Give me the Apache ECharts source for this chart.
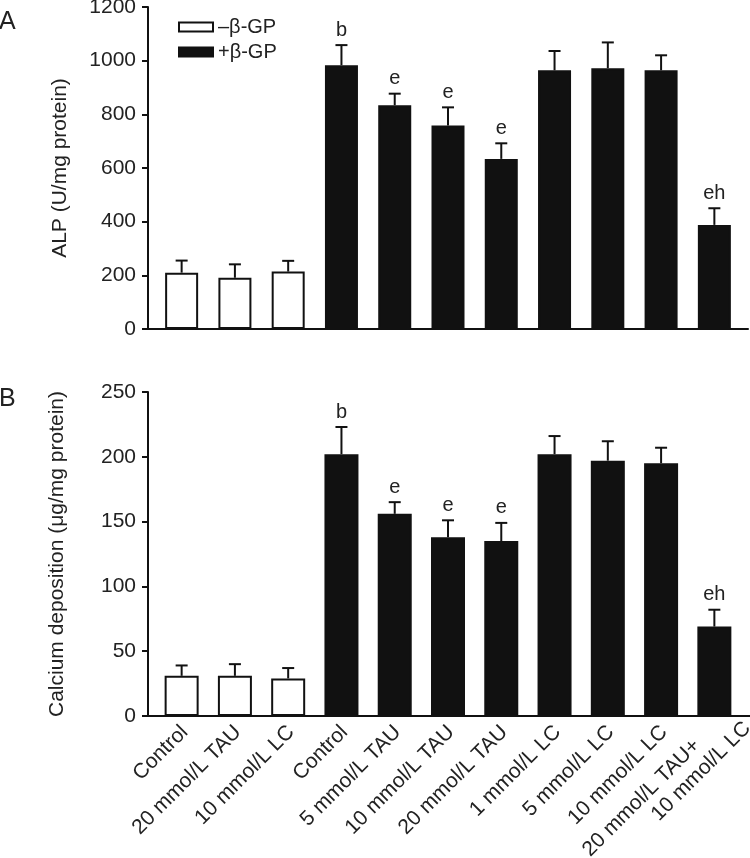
<!DOCTYPE html>
<html><head><meta charset="utf-8">
<script src="https://cdn.jsdelivr.net/npm/echarts@6/dist/echarts.min.js"></script>
<style>html,body{margin:0;padding:0;background:#fff}#c{width:750px;height:858px}</style>
</head><body><div id="c"></div>
<script>
const categories = ['Control','20 mmol/L TAU','10 mmol/L LC','Control','5 mmol/L TAU','10 mmol/L TAU','20 mmol/L TAU','1 mmol/L LC','5 mmol/L LC','10 mmol/L LC','20 mmol/L TAU+\n10 mmol/L LC'];
const legendNames = ['\u2013\u03b2-GP', '+\u03b2-GP'];
// Panel A: ALP
const alpMinus = [210, 191, 214, null, null, null, null, null, null, null, null];
const alpPlus  = [null, null, null, 983, 834, 758, 634, 964, 972, 964, 388];
const alpErr   = [45, 50, 40, 75, 43, 68, 58, 72, 96, 56, 62];
const alpSig   = ['', '', '', 'b', 'e', 'e', 'e', '', '', '', 'eh'];
// Panel B: Calcium deposition
const caMinus = [31, 31, 29, null, null, null, null, null, null, null, null];
const caPlus  = [null, null, null, 202, 156, 138, 135, 202, 197, 195, 69];
const caErr   = [8, 9, 8, 21, 9, 13, 14, 14, 15, 12, 13];
const caSig   = ['', '', '', 'b', 'e', 'e', 'e', '', '', '', 'eh'];
const alpTicks = {min: 0, max: 1200, interval: 200};
const caTicks = {min: 0, max: 250, interval: 50};

const FONT = '"Liberation Sans", Arial, sans-serif';
const INK = '#111';
const LABEL_INK = '#222';

function errData(minus, plus, err, sig) {
  return categories.map((c, i) => [i, (minus[i] != null ? minus[i] : plus[i]), err[i], sig[i]]);
}
function errSeries(xi, yi, data) {
  return {
    type: 'custom', xAxisIndex: xi, yAxisIndex: yi, data: data, z: 1,
    renderItem: function (params, api) {
      const x = api.value(0), v = api.value(1), e = api.value(2);
      const sig = data[params.dataIndex][3];
      const p0 = api.coord([x, v]);
      const p1 = api.coord([x, v + e]);
      const cw = 6;
      const children = [
        {type: 'line', shape: {x1: p0[0], y1: p0[1], x2: p1[0], y2: p1[1]}, style: {stroke: INK, lineWidth: 2}},
        {type: 'line', shape: {x1: p1[0] - cw, y1: p1[1], x2: p1[0] + cw, y2: p1[1]}, style: {stroke: INK, lineWidth: 2}}
      ];
      if (sig) {
        children.push({type: 'text', x: p1[0], y: p1[1] - 5, style: {text: sig, fill: LABEL_INK, font: '20px ' + FONT, textAlign: 'center', textVerticalAlign: 'bottom'}});
      }
      return {type: 'group', children: children};
    }
  };
}
function barSeries(name, xi, yi, data, filled, bw) {
  return {
    name: name, type: 'bar', xAxisIndex: xi, yAxisIndex: yi, data: data,
    barWidth: bw, barGap: '-100%', z: 2,
    itemStyle: {color: filled ? INK : '#fff', borderColor: INK, borderWidth: 2}
  };
}
function decoX(gi) {
  return {type: 'value', gridIndex: gi, min: 0, max: 1, axisLine: {show: true, onZero: false, lineStyle: {color: INK, width: 2}},
    axisTick: {show: false}, axisLabel: {show: false}, splitLine: {show: false}};
}
function decoY(gi, t, name, gap) {
  return {type: 'value', gridIndex: gi, min: t.min, max: t.max, interval: t.interval,
    name: name, nameLocation: 'middle', nameGap: gap,
    nameTextStyle: {fontFamily: FONT, fontSize: 21, color: LABEL_INK},
    axisLine: {show: true, lineStyle: {color: INK, width: 2}},
    axisTick: {show: true, length: 6, lineStyle: {color: INK, width: 2}},
    axisLabel: {fontFamily: FONT, fontSize: 21, color: LABEL_INK, margin: 12, formatter: function (v) { return String(v); }},
    splitLine: {show: false}};
}
function hideY(gi, t) {
  return {type: 'value', gridIndex: gi, min: t.min, max: t.max, show: false, splitLine: {show: false}};
}
const labelCats = categories.map(function (c) {
  if (c.indexOf('\n') >= 0) {
    return {value: c, textStyle: {padding: [14, -24, 0, 0]}};
  }
  return c;
});
function grid(left, width, top, height) {
  return {left: left, width: width, top: top, height: height, containLabel: false, outerBoundsMode: 'none'};
}

const chart = echarts.init(document.getElementById('c'), null, {renderer: 'canvas'});
chart.setOption({
  animation: false,
  backgroundColor: '#fff',
  title: [
    {text: 'A', left: -1, top: 10, padding: 0, textStyle: {fontFamily: FONT, fontSize: 25, fontWeight: 'normal', color: LABEL_INK}},
    {text: 'B', left: -1, top: 387, padding: 0, textStyle: {fontFamily: FONT, fontSize: 25, fontWeight: 'normal', color: LABEL_INK}}
  ],
  legend: {
    data: legendNames, orient: 'vertical', left: 178, top: 17, itemWidth: 34, itemHeight: 9, itemGap: 5,
    icon: 'rect', textStyle: {fontFamily: FONT, fontSize: 20, color: LABEL_INK}, padding: 0
  },
  grid: [
    grid(155, 586, 7, 322),
    grid(148, 600, 7, 322),
    grid(155, 586, 392, 324),
    grid(148, 602, 392, 324),
    grid(158, 586, 392, 324)
  ],
  xAxis: [
    {type: 'category', gridIndex: 0, data: categories, axisLine: {show: false}, axisTick: {show: false}, axisLabel: {show: false}},
    decoX(1),
    {type: 'category', gridIndex: 2, data: categories, axisLine: {show: false}, axisTick: {show: false}, axisLabel: {show: false}},
    decoX(3),
    {type: 'category', gridIndex: 4, data: labelCats, axisLine: {show: false}, axisTick: {show: false},
      axisLabel: {rotate: 45, margin: 13, fontFamily: FONT, fontSize: 21, color: LABEL_INK, interval: 0, lineHeight: 23,
        hideOverlap: false,
        formatter: function (v) {
          if (v.indexOf('\n') >= 0) { const parts = v.split('\n'); return '{a|' + parts[0] + '}\n{b|' + parts[1] + '}'; }
          return v;
        },
        rich: {
          a: {fontFamily: FONT, fontSize: 21, color: LABEL_INK, lineHeight: 23, padding: [0, 48, 0, 0]},
          b: {fontFamily: FONT, fontSize: 21, color: LABEL_INK, lineHeight: 24}
        }
      }}
  ],
  yAxis: [
    hideY(0, alpTicks),
    decoY(1, alpTicks, 'ALP (U/mg protein)', 77),
    hideY(2, caTicks),
    decoY(3, caTicks, 'Calcium deposition (\u03bcg/mg protein)', 80),
    hideY(4, caTicks)
  ],
  series: [
    barSeries(legendNames[0], 0, 0, alpMinus, false, 33),
    barSeries(legendNames[1], 0, 0, alpPlus, true, 33),
    errSeries(0, 0, errData(alpMinus, alpPlus, alpErr, alpSig)),
    barSeries(legendNames[0], 2, 2, caMinus, false, 34),
    barSeries(legendNames[1], 2, 2, caPlus, true, 34),
    errSeries(2, 2, errData(caMinus, caPlus, caErr, caSig))
  ]
});
</script></body></html>
